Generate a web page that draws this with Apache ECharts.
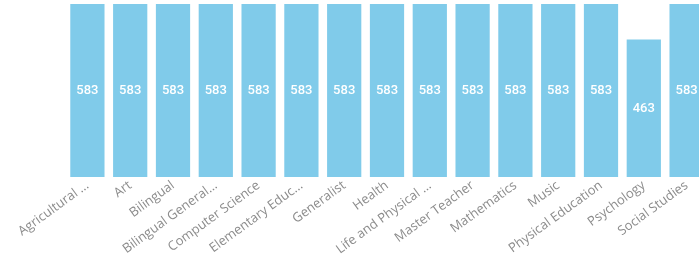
<!DOCTYPE html>
<html>
<head>
<meta charset="utf-8">
<script src="https://cdn.jsdelivr.net/npm/echarts@6/dist/echarts.min.js"></script>
<style>
html, body { margin: 0; padding: 0; background: #fff; }
#chart { width: 699px; height: 264px; }
</style>
</head>
<body>
<div id="chart"></div>
<script>
const categories = [
  'Agricultural ...', 'Art', 'Bilingual', 'Bilingual General...', 'Computer Science',
  'Elementary Educ...', 'Generalist', 'Health', 'Life and Physical ...', 'Master Teacher',
  'Mathematics', 'Music', 'Physical Education', 'Psychology', 'Social Studies'
]
const counts = [583, 583, 583, 583, 583, 583, 583, 583, 583, 583, 583, 583, 583, 463, 583]

const myChart = echarts.init(document.getElementById('chart'))
myChart.setOption({
  animation: false,
  grid: {
    left: 66,
    right: -9,
    top: 4,
    bottom: 87,
    outerBoundsMode: 'none',
    containLabel: false
  },
  xAxis: {
    type: 'category',
    data: categories,
    axisLine: { show: false },
    axisTick: { show: false },
    axisLabel: {
      interval: 0,
      rotate: 36,
      margin: 7,
      color: '#8c8c8c',
      fontSize: 13,
      fontFamily: 'Open Sans'
    }
  },
  yAxis: {
    type: 'value',
    min: 0,
    max: 583,
    show: false
  },
  series: [
    {
      type: 'bar',
      data: counts,
      barWidth: '80%',
      itemStyle: { color: '#80cbea' },
      label: {
        show: true,
        position: 'inside',
        color: '#fff',
        fontSize: 13,
        fontWeight: 500,
        fontFamily: 'Roboto'
      }
    }
  ]
})
</script>
</body>
</html>
